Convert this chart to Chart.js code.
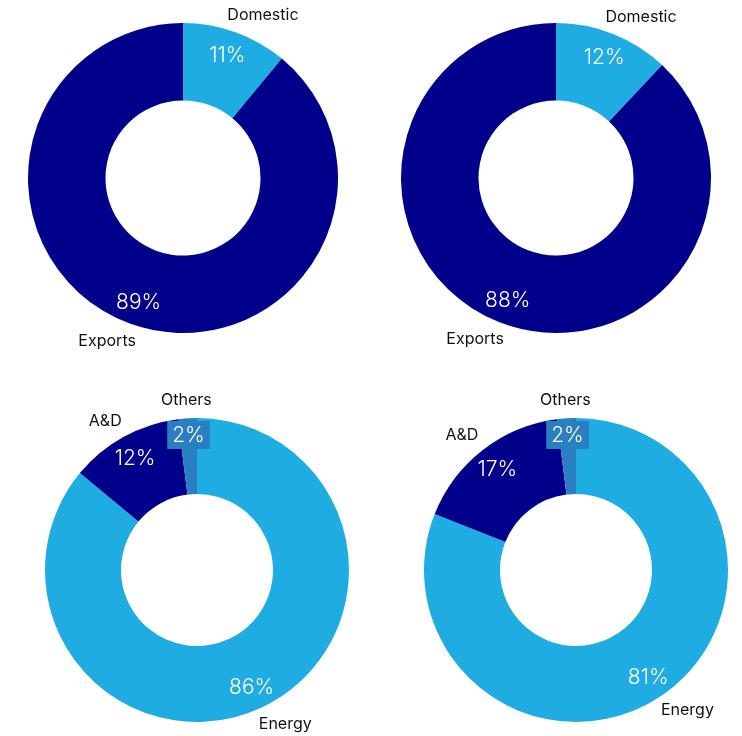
<!DOCTYPE html>
<html>
<head>
<meta charset="utf-8">
<script src="https://cdn.jsdelivr.net/npm/chart.js@4.4.1/dist/chart.umd.min.js"></script>
<style>
  html, body { margin: 0; padding: 0; background: #fff; }
  #wrap { position: relative; width: 742px; height: 736px; }
  canvas { position: absolute; }
</style>
</head>
<body>
<div id="wrap">
  <canvas id="salesA" width="371" height="368" style="left:0;top:0"></canvas>
  <canvas id="salesB" width="371" height="368" style="left:371px;top:0"></canvas>
  <canvas id="segA" width="371" height="368" style="left:0;top:368px"></canvas>
  <canvas id="segB" width="371" height="368" style="left:371px;top:368px"></canvas>
</div>
<script>
// sales split (domestic vs exports) and segment split
const marketLabels = ["Domestic", "Exports"];
const marketShareA = [11, 89];
const marketShareB = [12, 88];

const segmentLabels = ["Energy", "A&D", "Others"];
const segmentShareA = [86, 12, 2];
const segmentShareB = [81, 17, 2];

const NAVY = "#00008b";
const SKY = "#1eace3";
const MID = "#2a7fc2";

const FONT = "Inter, 'Open Sans', sans-serif";

// percent inside the ring + category name outside it
const ringLabels = {
  id: "ringLabels",
  afterDatasetsDraw(chart) {
    const ctx = chart.ctx;
    const ds = chart.data.datasets[0];
    const meta = chart.getDatasetMeta(0);
    meta.data.forEach((arc, i) => {
      const p = arc.getProps(["x", "y", "startAngle", "endAngle", "outerRadius"], true);
      const mid = (p.startAngle + p.endAngle) / 2;
      const c = Math.cos(mid), s = Math.sin(mid);
      const v = ds.data[i];
      const small = v < 5;

      // value label (thin slices get a filled box)
      const rIn = p.outerRadius * (small ? 0.89 : 0.845);
      const vx = p.x + c * rIn, vy = p.y + s * rIn;
      const txt = v + "%";
      ctx.save();
      ctx.font = "300 21px " + FONT;
      ctx.textAlign = "center";
      ctx.textBaseline = "middle";
      if (small) {
        const w = ctx.measureText(txt).width + 10;
        ctx.fillStyle = ds.backgroundColor[i];
        ctx.fillRect(vx - w / 2, vy - 14, w, 28);
      }
      ctx.fillStyle = "#ffffff";
      ctx.fillText(txt, vx, vy + 1);

      // category label
      const rOut = p.outerRadius + 18;
      const ax = p.x + c * rOut, ay = p.y + s * rOut;
      ctx.font = "16px " + FONT;
      const w = ctx.measureText(chart.data.labels[i]).width;
      const cx = Math.abs(c) < 0.15 ? ax : ax + Math.sign(c) * w * 0.3;
      ctx.fillStyle = "#111111";
      ctx.fillText(chart.data.labels[i], cx, ay);
      ctx.restore();
    });
  },
};

function ring(id, labels, values, colors, padding) {
  return new Chart(document.getElementById(id), {
    type: "doughnut",
    data: {
      labels,
      datasets: [{
        data: values,
        backgroundColor: colors,
        borderWidth: 0,
        hoverOffset: 0,
      }],
    },
    options: {
      responsive: false,
      animation: false,
      cutout: "50%",
      layout: { padding },
      plugins: { legend: { display: false }, tooltip: { enabled: false } },
    },
    plugins: [ringLabels],
  });
}

ring("salesA", marketLabels, marketShareA, [SKY, NAVY], { left: 28, right: 33, top: 23, bottom: 35 });
ring("salesB", marketLabels, marketShareB, [SKY, NAVY], { left: 30, right: 31, top: 23, bottom: 35 });
ring("segA", segmentLabels, segmentShareA, [SKY, NAVY, MID], { left: 45, right: 22, top: 50, bottom: 14 });
ring("segB", segmentLabels, segmentShareB, [SKY, NAVY, MID], { left: 53, right: 14, top: 50, bottom: 14 });
</script>
</body>
</html>
